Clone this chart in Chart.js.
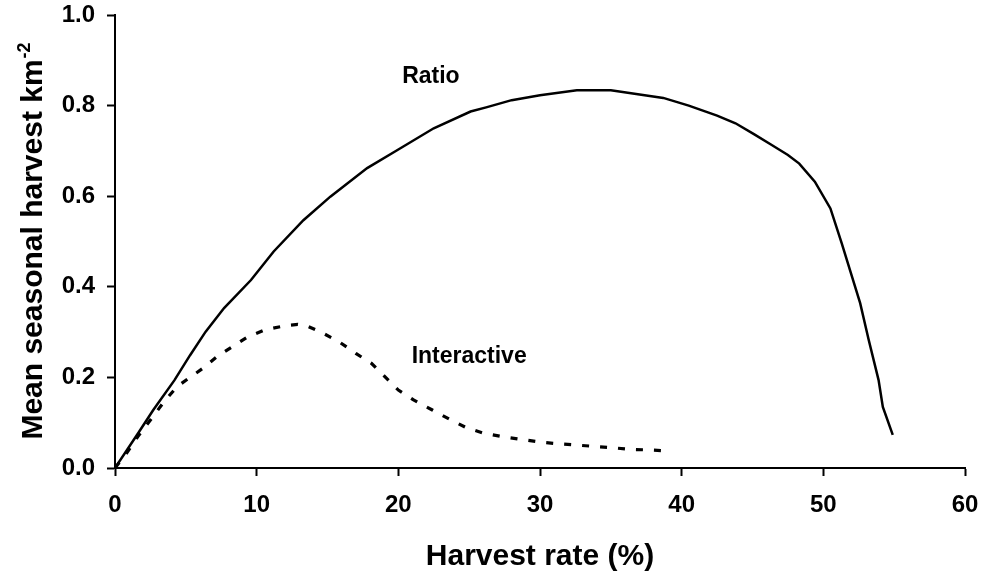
<!DOCTYPE html>
<html>
<head>
<meta charset="utf-8">
<script src="https://cdn.jsdelivr.net/npm/chart.js@4.4.1/dist/chart.umd.min.js"></script>
<style>
html,body{margin:0;padding:0;background:#fff;}
#wrap{width:982px;height:575px;position:relative;}
</style>
</head>
<body>
<div id="wrap"><canvas id="c" width="982" height="575"></canvas></div>
<script>
// ---- data ----
const ratioX = [0, 1.7, 2.7, 4.2, 5.3, 6.4, 7.7, 9.6, 11.2, 13.3, 15.2, 17.8, 20, 22.5, 25.1, 26.2, 28, 30, 32.6, 35, 38.7, 40.5, 42.5, 43.8, 45.1, 46.3, 47.5, 48.3, 49.4, 50.5, 51.3, 52.6, 53.2, 53.9, 54.2, 54.9];
const ratioY = [0, 0.08, 0.128, 0.194, 0.249, 0.301, 0.353, 0.415, 0.478, 0.547, 0.599, 0.662, 0.703, 0.750, 0.787, 0.796, 0.812, 0.823, 0.834, 0.834, 0.817, 0.800, 0.778, 0.761, 0.737, 0.714, 0.691, 0.672, 0.632, 0.573, 0.496, 0.364, 0.283, 0.194, 0.135, 0.073];
const interX = [0, 0.8, 1.6, 2.5, 3.5, 4.4, 5.2, 6.2, 7.2, 8.3, 9.4, 10.6, 12.0, 12.9, 13.6, 14.6, 15.8, 17.0, 18.1, 19.1, 20.0, 21.1, 22.4, 23.6, 24.8, 26.0, 27.2, 28.5, 29.8, 31.1, 32.4, 33.7, 35.0, 36.4, 37.6, 38.9];
const interY = [0, 0.032, 0.069, 0.106, 0.148, 0.180, 0.198, 0.220, 0.246, 0.268, 0.290, 0.305, 0.314, 0.317, 0.313, 0.299, 0.279, 0.253, 0.231, 0.200, 0.172, 0.150, 0.128, 0.108, 0.089, 0.077, 0.070, 0.064, 0.058, 0.054, 0.051, 0.048, 0.045, 0.041, 0.040, 0.038];
const seriesNames = ["Ratio", "Interactive"];
const labelX = [22.3, 25.0];
const labelY = [0.849, 0.231];
const xTickValues = [0, 10, 20, 30, 40, 50, 60];
const yTickValues = [0.0, 0.2, 0.4, 0.6, 0.8, 1.0];
const xTitle = "Harvest rate (%)";
const yTitleMain = "Mean seasonal harvest km";
const yTitleSup = "-2";

const toPts = (xs, ys) => xs.map((x, i) => ({x: x, y: ys[i]}));
const FONT = '"Liberation Sans", Arial, sans-serif';

const textPlugin = {
  id: 'texts',
  afterDraw(chart) {
    const ctx = chart.ctx;
    const xs = chart.scales.x, ys = chart.scales.y, ca = chart.chartArea;
    ctx.save();
    ctx.fillStyle = '#000';
    ctx.font = 'bold 23px ' + FONT;
    ctx.textAlign = 'center';
    ctx.textBaseline = 'alphabetic';
    seriesNames.forEach((n, i) => {
      ctx.fillText(n, xs.getPixelForValue(labelX[i]), ys.getPixelForValue(labelY[i]));
    });
    ctx.font = 'bold 30px ' + FONT;
    ctx.fillText(xTitle, (ca.left + ca.right) / 2, 565);
    ctx.translate(42, (ca.top + ca.bottom) / 2);
    ctx.rotate(-Math.PI / 2);
    ctx.font = 'bold 30px ' + FONT;
    const wMain = ctx.measureText(yTitleMain).width;
    ctx.font = 'bold 18px ' + FONT;
    const wSup = ctx.measureText(yTitleSup).width;
    const start = -(wMain + wSup) / 2;
    ctx.textAlign = 'left';
    ctx.font = 'bold 30px ' + FONT;
    ctx.fillText(yTitleMain, start, 0);
    ctx.font = 'bold 18px ' + FONT;
    ctx.fillText(yTitleSup, start + wMain + 1, -12);
    ctx.restore();
  }
};

new Chart(document.getElementById('c'), {
  type: 'scatter',
  data: {
    datasets: [
      {label: seriesNames[0], data: toPts(ratioX, ratioY), showLine: true, borderColor: '#000', borderWidth: 2.5, pointRadius: 0, tension: 0, fill: false},
      {label: seriesNames[1], data: toPts(interX, interY), showLine: true, borderColor: '#000', borderWidth: 3.2, borderDash: [7, 11], borderCapStyle: 'butt', pointRadius: 0, tension: 0, fill: false}
    ]
  },
  options: {
    responsive: false,
    animation: false,
    devicePixelRatio: 1,
    layout: {padding: {left: 0, right: 17, top: 15, bottom: 0}},
    plugins: {legend: {display: false}, tooltip: {enabled: false}},
    scales: {
      x: {
        type: 'linear', min: 0, max: 60,
        afterBuildTicks: s => { s.ticks = xTickValues.map(v => ({value: v})); },
        afterFit: s => { s.height = 107; s.paddingLeft = 0; s.paddingRight = 0; },
        grid: {drawOnChartArea: false, drawTicks: true, tickLength: 8, tickWidth: 2, tickColor: '#000'},
        border: {display: true, color: '#000', width: 2},
        ticks: {color: '#000', font: {family: FONT, size: 24, weight: 'bold'}, padding: 15, maxRotation: 0, callback: v => String(v)}
      },
      y: {
        type: 'linear', min: 0, max: 1,
        afterBuildTicks: s => { s.ticks = yTickValues.map(v => ({value: v})); },
        afterFit: s => { s.width = 115; s.paddingTop = 0; s.paddingBottom = 0; },
        grid: {drawOnChartArea: false, drawTicks: true, tickLength: 8, tickWidth: 2, tickColor: '#000'},
        border: {display: true, color: '#000', width: 2},
        ticks: {color: '#000', font: {family: FONT, size: 24, weight: 'bold'}, padding: 12, callback: v => Number(v).toFixed(1)}
      }
    }
  },
  plugins: [textPlugin]
});
</script>
</body>
</html>
